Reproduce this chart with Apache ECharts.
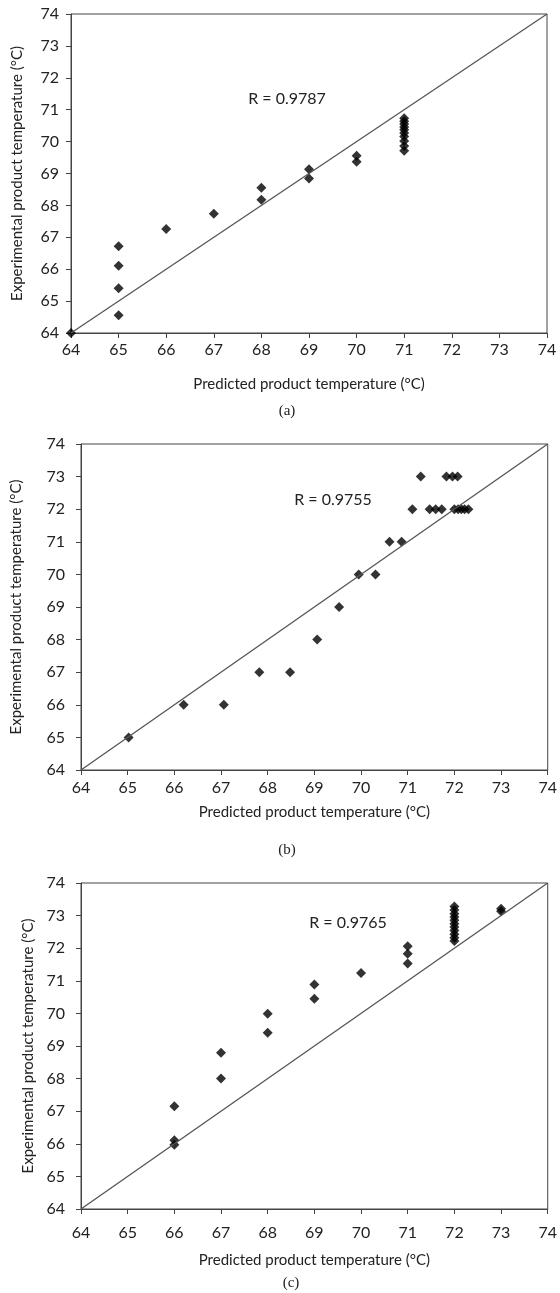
<!DOCTYPE html>
<html>
<head>
<meta charset="utf-8">
<script src="https://cdn.jsdelivr.net/npm/echarts@6/dist/echarts.min.js"></script>
<style>
  html, body { margin: 0; padding: 0; background: #fff; }
  #chart { width: 560px; height: 1293px; }
</style>
</head>
<body>
<div id="chart"></div>
<script>
// axis range shared by the three panels
const axisMin = 64;
const axisMax = 74;
const diagonal = [64, 74];

// (a)
const predA = [64, 65, 65, 65, 65, 66, 67, 68, 68, 69, 69, 70, 70,
  71, 71, 71, 71, 71, 71, 71, 71, 71, 71];
const expA = [64, 66.72, 66.11, 65.40, 64.56, 67.26, 67.74, 68.55, 68.18, 69.13, 68.84, 69.56, 69.37,
  70.73, 70.64, 70.55, 70.46, 70.37, 70.27, 70.16, 70.02, 69.86, 69.71];

// (b)
const predB = [65.02, 66.20, 67.06, 67.82, 68.48, 69.06, 69.53, 69.95, 70.31, 70.61, 70.87,
  71.10, 71.47, 71.60, 71.73, 72.00, 72.08, 72.15, 72.22, 72.30,
  71.28, 71.83, 71.96, 72.07];
const expB = [65, 66, 66, 67, 67, 68, 69, 70, 70, 71, 71,
  72, 72, 72, 72, 72, 72, 72, 72, 72,
  73, 73, 73, 73];

// (c)
const predC = [66, 66, 66, 67, 67, 68, 68, 69, 69, 70, 71, 71, 71,
  72, 72, 72, 72, 72, 72, 72, 72, 72, 72, 72, 73, 73];
const expC = [67.15, 66.11, 65.97, 68.79, 68.00, 69.99, 69.41, 70.89, 70.45, 71.24, 72.06, 71.83, 71.53,
  73.28, 73.17, 73.06, 72.96, 72.86, 72.75, 72.65, 72.54, 72.43, 72.32, 72.22, 73.21, 73.13];

const rValues = ["R = 0.9787", "R = 0.9755", "R = 0.9765"];
const captions = ["(a)", "(b)", "(c)"];

const font = "Lato";
const textColor = "#222";

const grids = [
  { left: 71, top: 14, width: 476, height: 319 },
  { left: 81, top: 444, width: 470, height: 326 },
  { left: 81, top: 883, width: 473, height: 326 },
];
const xNameGap = [44, 35, 44];
const xLabelMargin = [9, 10, 16];
const yNameGap = [46, 57, 42];
const yLabelMargin = [12, 16, 16];

const rPos = [[287, 99], [333, 500], [348, 923]];
const capPos = [[287, 411], [287, 850], [291, 1283]];

const pairs = (xs, ys) => xs.map((x, i) => [x, ys[i]]);
const panels = [pairs(predA, expA), pairs(predB, expB), pairs(predC, expC)];

const chart = echarts.init(document.getElementById("chart"));

const xAxis = grids.map((g, i) => ({
  type: "value",
  gridIndex: i,
  min: axisMin,
  max: axisMax,
  interval: 1,
  name: "Predicted product temperature (°C)",
  nameLocation: "middle",
  nameGap: xNameGap[i],
  nameTextStyle: { fontFamily: font, fontSize: 15, color: textColor },
  axisLine: { lineStyle: { color: "#444", width: 1 } },
  axisTick: { show: true, length: 5, lineStyle: { color: "#444" } },
  axisLabel: { fontFamily: font, fontSize: 16, color: textColor, margin: xLabelMargin[i] },
  splitLine: { show: false },
}));

const yAxis = grids.map((g, i) => ({
  type: "value",
  gridIndex: i,
  min: axisMin,
  max: axisMax,
  interval: 1,
  name: "Experimental product temperature (°C)",
  nameLocation: "middle",
  nameGap: yNameGap[i],
  nameTextStyle: { fontFamily: font, fontSize: 15, color: textColor },
  axisLine: { lineStyle: { color: "#444", width: 1 } },
  axisTick: { show: true, length: 5, lineStyle: { color: "#444" } },
  axisLabel: { fontFamily: font, fontSize: 16, color: textColor, margin: yLabelMargin[i] },
  splitLine: { show: false },
}));

const series = [];
panels.forEach((data, i) => {
  series.push({
    type: "line",
    xAxisIndex: i,
    yAxisIndex: i,
    data: [[diagonal[0], diagonal[0]], [diagonal[1], diagonal[1]]],
    symbol: "none",
    lineStyle: { color: "#555", width: 1.3 },
    silent: true,
  });
  series.push({
    type: "scatter",
    xAxisIndex: i,
    yAxisIndex: i,
    data: data,
    symbol: "diamond",
    symbolSize: 10,
    itemStyle: { color: "#000" },
  });
});

const graphic = [];
rValues.forEach((t, i) => {
  graphic.push({
    type: "text",
    x: rPos[i][0],
    y: rPos[i][1],
    style: {
      text: t, fontFamily: font, fontSize: 16, fill: textColor,
      align: "center", verticalAlign: "middle",
    },
  });
});
captions.forEach((t, i) => {
  graphic.push({
    type: "text",
    x: capPos[i][0],
    y: capPos[i][1],
    style: {
      text: t, fontFamily: "Liberation Serif", fontSize: 15, fill: textColor,
      align: "center", verticalAlign: "middle",
    },
  });
});

chart.setOption({
  animation: false,
  grid: grids.map((g) => ({ ...g, show: true, borderColor: "#444", borderWidth: 1, backgroundColor: "transparent" })),
  xAxis,
  yAxis,
  series,
  graphic,
});
</script>
</body>
</html>
